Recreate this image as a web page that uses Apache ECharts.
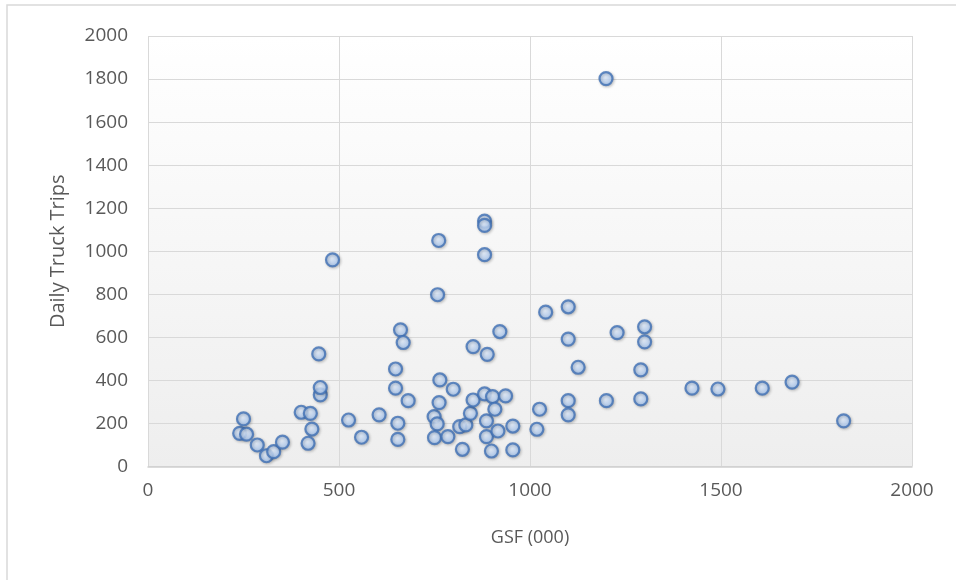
<!DOCTYPE html>
<html>
<head>
<meta charset="utf-8">
<script src="https://cdn.jsdelivr.net/npm/echarts@6/dist/echarts.min.js"></script>
<style>
html,body{margin:0;padding:0;background:#fff;}
#c{width:956px;height:580px;}
</style>
</head>
<body>
<div id="c"></div>
<script>
// GSF (000) values
const gsf = [240,258,250,286,310,329,352,401,425,429,419,451,451,447,483,525,559,605,648,648,654,654,661,668,681,749,757,750,761,758,762,764,785,799,816,832,823,844,851,851,881,881,881,881,888,886,886,899,902,908,916,921,936,955,955,1018,1025,1041,1100,1100,1100,1100,1126,1199,1200,1228,1290,1290,1300,1300,1424,1492,1608,1686,1821];
// Daily truck trips values
const trips = [154,150,221,100,50,69,113,252,247,174,108,333,367,523,960,216,136,240,453,364,201,126,635,576,306,232,198,134,1050,798,297,402,139,359,185,193,80,247,309,557,337,1140,1120,984,521,212,139,72,325,266,165,627,328,188,77,173,266,717,742,592,306,240,461,1802,306,622,449,314,649,579,364,360,364,392,212];
const xTicks = [0,500,1000,1500,2000];
const yTicks = [0,200,400,600,800,1000,1200,1400,1600,1800,2000];

const points = gsf.map((x,i)=>[x,trips[i]]);
const font = '"Open Sans", Lato, sans-serif';
const chart = echarts.init(document.getElementById('c'));
chart.setOption({
  animation:false,
  backgroundColor:'#fff',
  graphic:[{type:'rect',shape:{x:7,y:5,width:1000,height:1000},style:{fill:'none',stroke:'#d9d9d9',lineWidth:1.5},silent:true}],
  grid:{left:148,right:44,top:36,bottom:113.5,show:true,borderWidth:0,
    backgroundColor:new echarts.graphic.LinearGradient(0,0,0,1,[{offset:0,color:'#ffffff'},{offset:1,color:'#eeeeee'}])},
  xAxis:{type:'value',min:xTicks[0],max:xTicks[xTicks.length-1],interval:500,
    name:'GSF (000)',nameLocation:'middle',nameGap:62,
    nameTextStyle:{fontFamily:font,fontSize:18,color:'#595959'},
    axisLine:{show:true,lineStyle:{color:'#d0d0d0',width:1.5}},axisTick:{show:false},
    axisLabel:{fontFamily:font,fontSize:19,color:'#595959',margin:15,formatter:v=>String(v)},
    splitLine:{show:true,lineStyle:{color:'#d9d9d9',width:1}}},
  yAxis:{type:'value',min:yTicks[0],max:yTicks[yTicks.length-1],interval:200,
    name:'Daily Truck Trips',nameLocation:'middle',nameGap:80,
    nameTextStyle:{fontFamily:font,fontSize:20,color:'#595959'},
    axisLine:{show:false},axisTick:{show:false},
    axisLabel:{fontFamily:font,fontSize:19,color:'#595959',margin:20,formatter:v=>String(v)},
    splitLine:{show:true,lineStyle:{color:'#d9d9d9',width:1}}},
  series:[{type:'scatter',data:points,symbol:'circle',symbolSize:13,
    itemStyle:{
      color:new echarts.graphic.RadialGradient(0.45,0.4,0.6,[{offset:0,color:'#e3eefd'},{offset:1,color:'#9dc0f0'}]),
      borderColor:'#4070b5',borderWidth:2.2,
      shadowColor:'rgba(0,0,0,0.25)',shadowBlur:3,shadowOffsetX:1,shadowOffsetY:1}}]
});
</script>
</body>
</html>
